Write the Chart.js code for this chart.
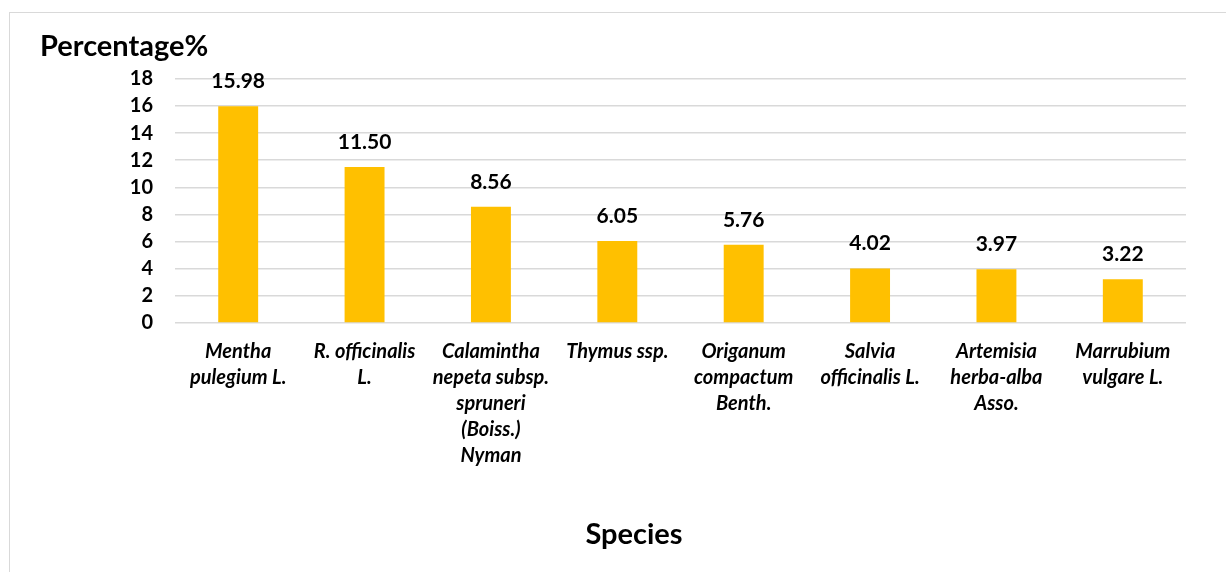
<!DOCTYPE html>
<html>
<head>
<meta charset="utf-8">
<script src="https://cdn.jsdelivr.net/npm/chart.js@4.4.1/dist/chart.umd.min.js"></script>
<style>
  html, body { margin: 0; padding: 0; background: #fff; }
  #wrap { position: relative; width: 1226px; height: 572px; overflow: hidden; }
  #frame { position: absolute; left: 9px; top: 12px; width: 1400px; height: 800px;
           border: 1.5px solid #d9d9d9; box-sizing: border-box; }
  #c { position: absolute; left: 0; top: 0; }
</style>
</head>
<body>
<div id="wrap">
  <div id="frame"></div>
  <canvas id="c" width="1226" height="572"></canvas>
</div>
<script>
// Species (multi-line tick labels)
const species = [
  ["Mentha", "pulegium L."],
  ["R. officinalis", "L."],
  ["Calamintha", "nepeta subsp.", "spruneri", "(Boiss.)", "Nyman"],
  ["Thymus ssp."],
  ["Origanum", "compactum", "Benth."],
  ["Salvia", "officinalis L."],
  ["Artemisia", "herba-alba", "Asso."],
  ["Marrubium", "vulgare L."]
];
// Percentage per species
const percentages = [15.98, 11.50, 8.56, 6.05, 5.76, 4.02, 3.97, 3.22];
// Y axis range
const yTicks = [0, 2, 4, 6, 8, 10, 12, 14, 16, 18];
const xAxisTitle = 'Species';

const FONT = "Lato, 'Open Sans', sans-serif";

// Value labels drawn above each bar
const barValueLabels = {
  id: 'barValueLabels',
  afterDatasetsDraw(chart) {
    const ctx = chart.ctx;
    const meta = chart.getDatasetMeta(0);
    ctx.save();
    ctx.font = "bold 21px " + FONT;
    ctx.fillStyle = "#000";
    ctx.textAlign = "center";
    ctx.textBaseline = "middle";
    meta.data.forEach((bar, i) => {
      ctx.fillText(percentages[i].toFixed(2), bar.x, bar.y - 25);
    });
    ctx.restore();
  }
};

// Category axis caption, centred under the whole frame
const xCaption = {
  id: 'xCaption',
  afterDraw(chart) {
    const ctx = chart.ctx;
    ctx.save();
    ctx.font = "bold 29px " + FONT;
    ctx.fillStyle = "#000";
    ctx.textAlign = "center";
    ctx.textBaseline = "middle";
    ctx.fillText(xAxisTitle, 634, chart.height - 37);
    ctx.restore();
  }
};

new Chart(document.getElementById('c'), {
  type: 'bar',
  data: {
    labels: species,
    datasets: [{
      data: percentages,
      backgroundColor: '#FFC000',
      borderWidth: 0,
      barPercentage: 0.316,
      categoryPercentage: 1
    }]
  },
  options: {
    responsive: false,
    animation: false,
    layout: { padding: { left: 40, right: 40, top: 0, bottom: 0 } },
    plugins: {
      legend: { display: false },
      tooltip: { enabled: false },
      title: {
        display: true,
        text: 'Percentage%',
        align: 'start',
        color: '#000',
        font: { family: FONT, size: 29, weight: 'bold', lineHeight: 1.2 },
        padding: { top: 29, bottom: 15 }
      }
    },
    scales: {
      y: {
        min: yTicks[0],
        max: yTicks[yTicks.length - 1],
        afterBuildTicks(scale) { scale.ticks = yTicks.map(v => ({ value: v })); },
        afterFit(scale) { scale.width = 135; },
        border: { display: false },
        grid: { color: '#d9d9d9', lineWidth: 1.5, drawTicks: false },
        ticks: {
          padding: 22,
          color: '#000',
          font: { family: FONT, size: 20, weight: 'bold' }
        }
      },
      x: {
        afterFit(scale) { scale.height = 249; },
        border: { display: false },
        grid: { display: false, drawTicks: false },
        ticks: {
          autoSkip: false,
          maxRotation: 0,
          minRotation: 0,
          padding: 16,
          color: '#000',
          font: { family: FONT, size: 20, weight: 'bold', style: 'italic', lineHeight: 1.3 }
        },
        title: { display: false }
      }
    }
  },
  plugins: [barValueLabels, xCaption]
});
</script>
</body>
</html>
